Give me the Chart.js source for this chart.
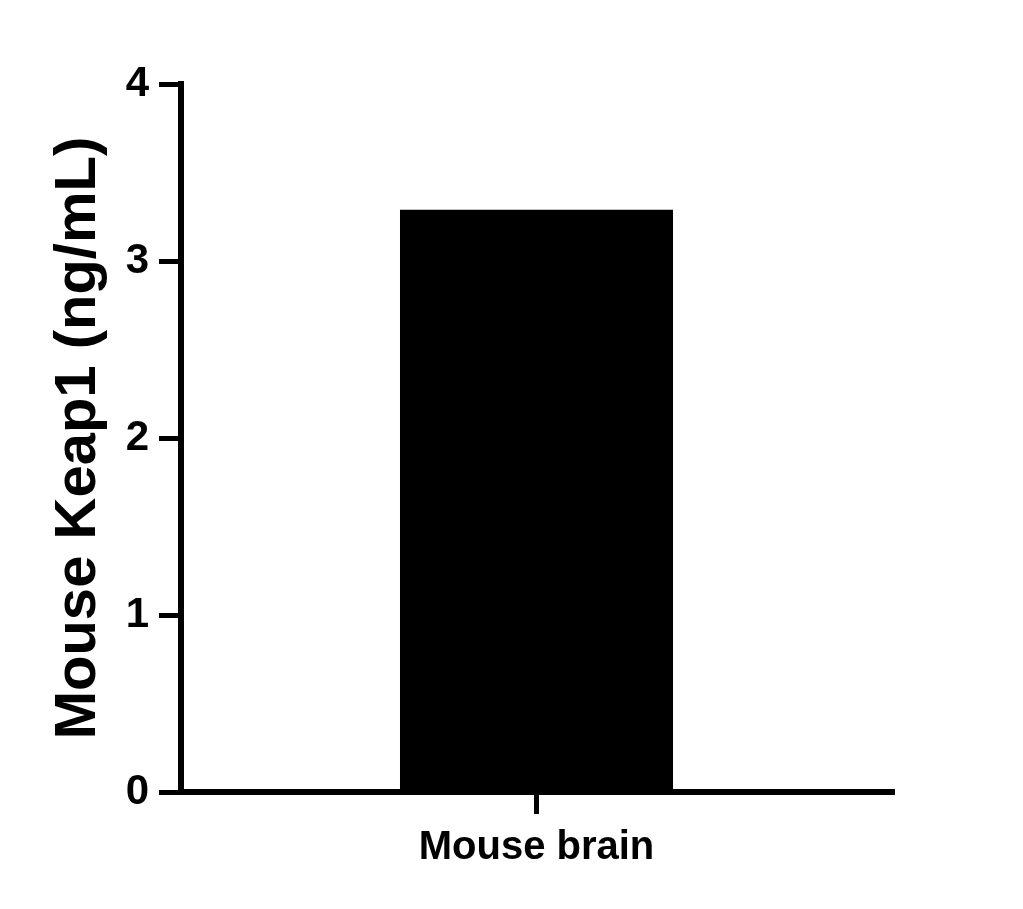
<!DOCTYPE html>
<html>
<head>
<meta charset="utf-8">
<script src="https://cdn.jsdelivr.net/npm/chart.js@4.4.1/dist/chart.umd.min.js"></script>
<style>
  html, body { margin: 0; padding: 0; background: #ffffff; }
  #wrap { width: 1023px; height: 909px; position: relative; }
</style>
</head>
<body>
<div id="wrap"><canvas id="c" width="1023" height="909"></canvas></div>
<script>
const categories = ['Mouse brain'];
const values = [3.29];
const yMin = 0;
const yMax = 4;
const yStep = 1;
const yTitle = 'Mouse Keap1 (ng/mL)';

const FONT = '"Liberation Sans", Arial, Helvetica, sans-serif';

new Chart(document.getElementById('c'), {
  type: 'bar',
  data: {
    labels: categories,
    datasets: [{
      data: values,
      backgroundColor: '#000000',
      borderWidth: 0,
      barPercentage: 0.384,
      categoryPercentage: 1.0
    }]
  },
  options: {
    responsive: false,
    animation: false,
    devicePixelRatio: 1,
    layout: { padding: { top: 84, right: 131, left: 0, bottom: 0 }, autoPadding: false },
    plugins: { legend: { display: false }, tooltip: { enabled: false } },
    scales: {
      x: {
        grid: { display: true, drawOnChartArea: false, offset: false, color: '#000', tickLength: 22, lineWidth: 5 },
        border: { display: true, color: '#000', width: 6 },
        ticks: { color: '#000', font: { family: FONT, size: 40, weight: 'bold' }, padding: 10, maxRotation: 0 },
        afterFit: (s) => { s.height = 117; }
      },
      y: {
        min: yMin, max: yMax,
        grid: { display: true, drawOnChartArea: false, color: '#000', tickLength: 22, lineWidth: 5 },
        border: { display: true, color: '#000', width: 6 },
        ticks: { stepSize: yStep, color: '#000', font: { family: FONT, size: 42, weight: 'bold' }, padding: 10 },
        title: { display: true, text: yTitle, color: '#000', font: { family: FONT, size: 58, weight: 'bold' }, padding: { top: 44, bottom: 0 } },
        afterFit: (s) => { s.width = 181; }
      }
    }
  }
});
</script>
</body>
</html>
